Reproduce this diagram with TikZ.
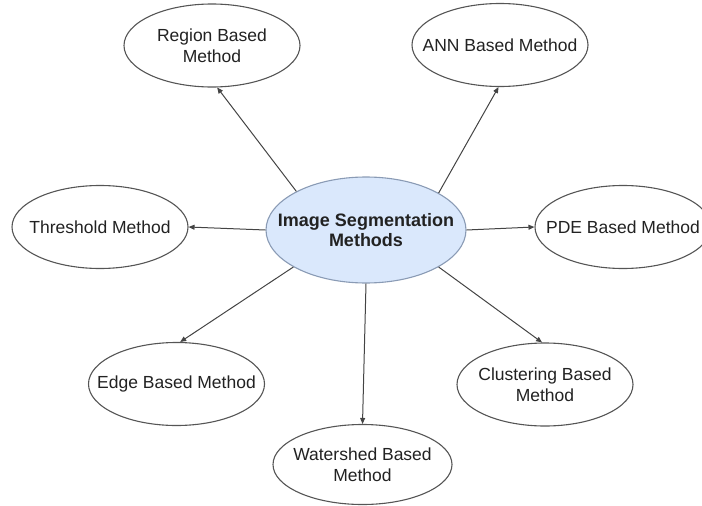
\documentclass[tikz,border=0pt]{standalone}
\usepackage{fontspec}
\setmainfont{Liberation Sans}
\usetikzlibrary{shapes.geometric,arrows.meta}
\definecolor{cfill}{HTML}{DAE8FC}
\definecolor{cdraw}{HTML}{8A9BB5}
\definecolor{odraw}{HTML}{555555}
\definecolor{txt}{HTML}{222222}
\definecolor{lnc}{HTML}{444444}
\begin{document}
\begin{tikzpicture}[x=1pt,y=-1pt,
  outer/.style={ellipse,draw=odraw,line width=1.1pt,fill=white,inner sep=0pt,
    minimum width=176pt,minimum height=83pt,
    label={[align=center,text=txt,font=\fontsize{17.5}{21}\selectfont]center:#1}},
  center/.style={ellipse,draw=cdraw,line width=1.1pt,fill=cfill,inner sep=0pt,
    minimum width=200pt,minimum height=106pt,
    label={[align=center,text=txt,font=\fontsize{18}{20}\selectfont\bfseries]center:#1}},
  conn/.style={draw=lnc,line width=1pt,-{Triangle[length=6pt,width=5pt]}}]
\useasboundingbox (0,0) rectangle (702,506);
\clip (0,0) rectangle (702,506);
\node[center={Image Segmentation\\Methods}] (c) at (366,230) {};
\node[outer={Region Based\\Method}] (region) at (212,45.5) {};
\node[outer={ANN Based Method}] (ann) at (500,45) {};
\node[outer={Threshold Method}] (threshold) at (100,227) {};
\node[outer={PDE Based Method}] (pde) at (623,227) {};
\node[outer={Edge Based Method}] (edge) at (176.5,384) {};
\node[outer={Clustering Based\\Method}] (clustering) at (545,384.5) {};
\node[outer={Watershed Based\\Method},minimum width=179pt,minimum height=80pt] (watershed) at (362.5,464.5) {};
\draw[conn] (c.151.8) -- (region.-83);
\draw[conn] (c.27.8) -- (ann.-92);
\draw[conn] (c.west) -- (threshold.east);
\draw[conn] (c.east) -- (pde.west);
\draw[conn] (c.207.5) -- (edge.85);
\draw[conn] (c.-27.5) -- (clustering.94);
\draw[conn] (c.south) -- (watershed.north);
\end{tikzpicture}
\end{document}
